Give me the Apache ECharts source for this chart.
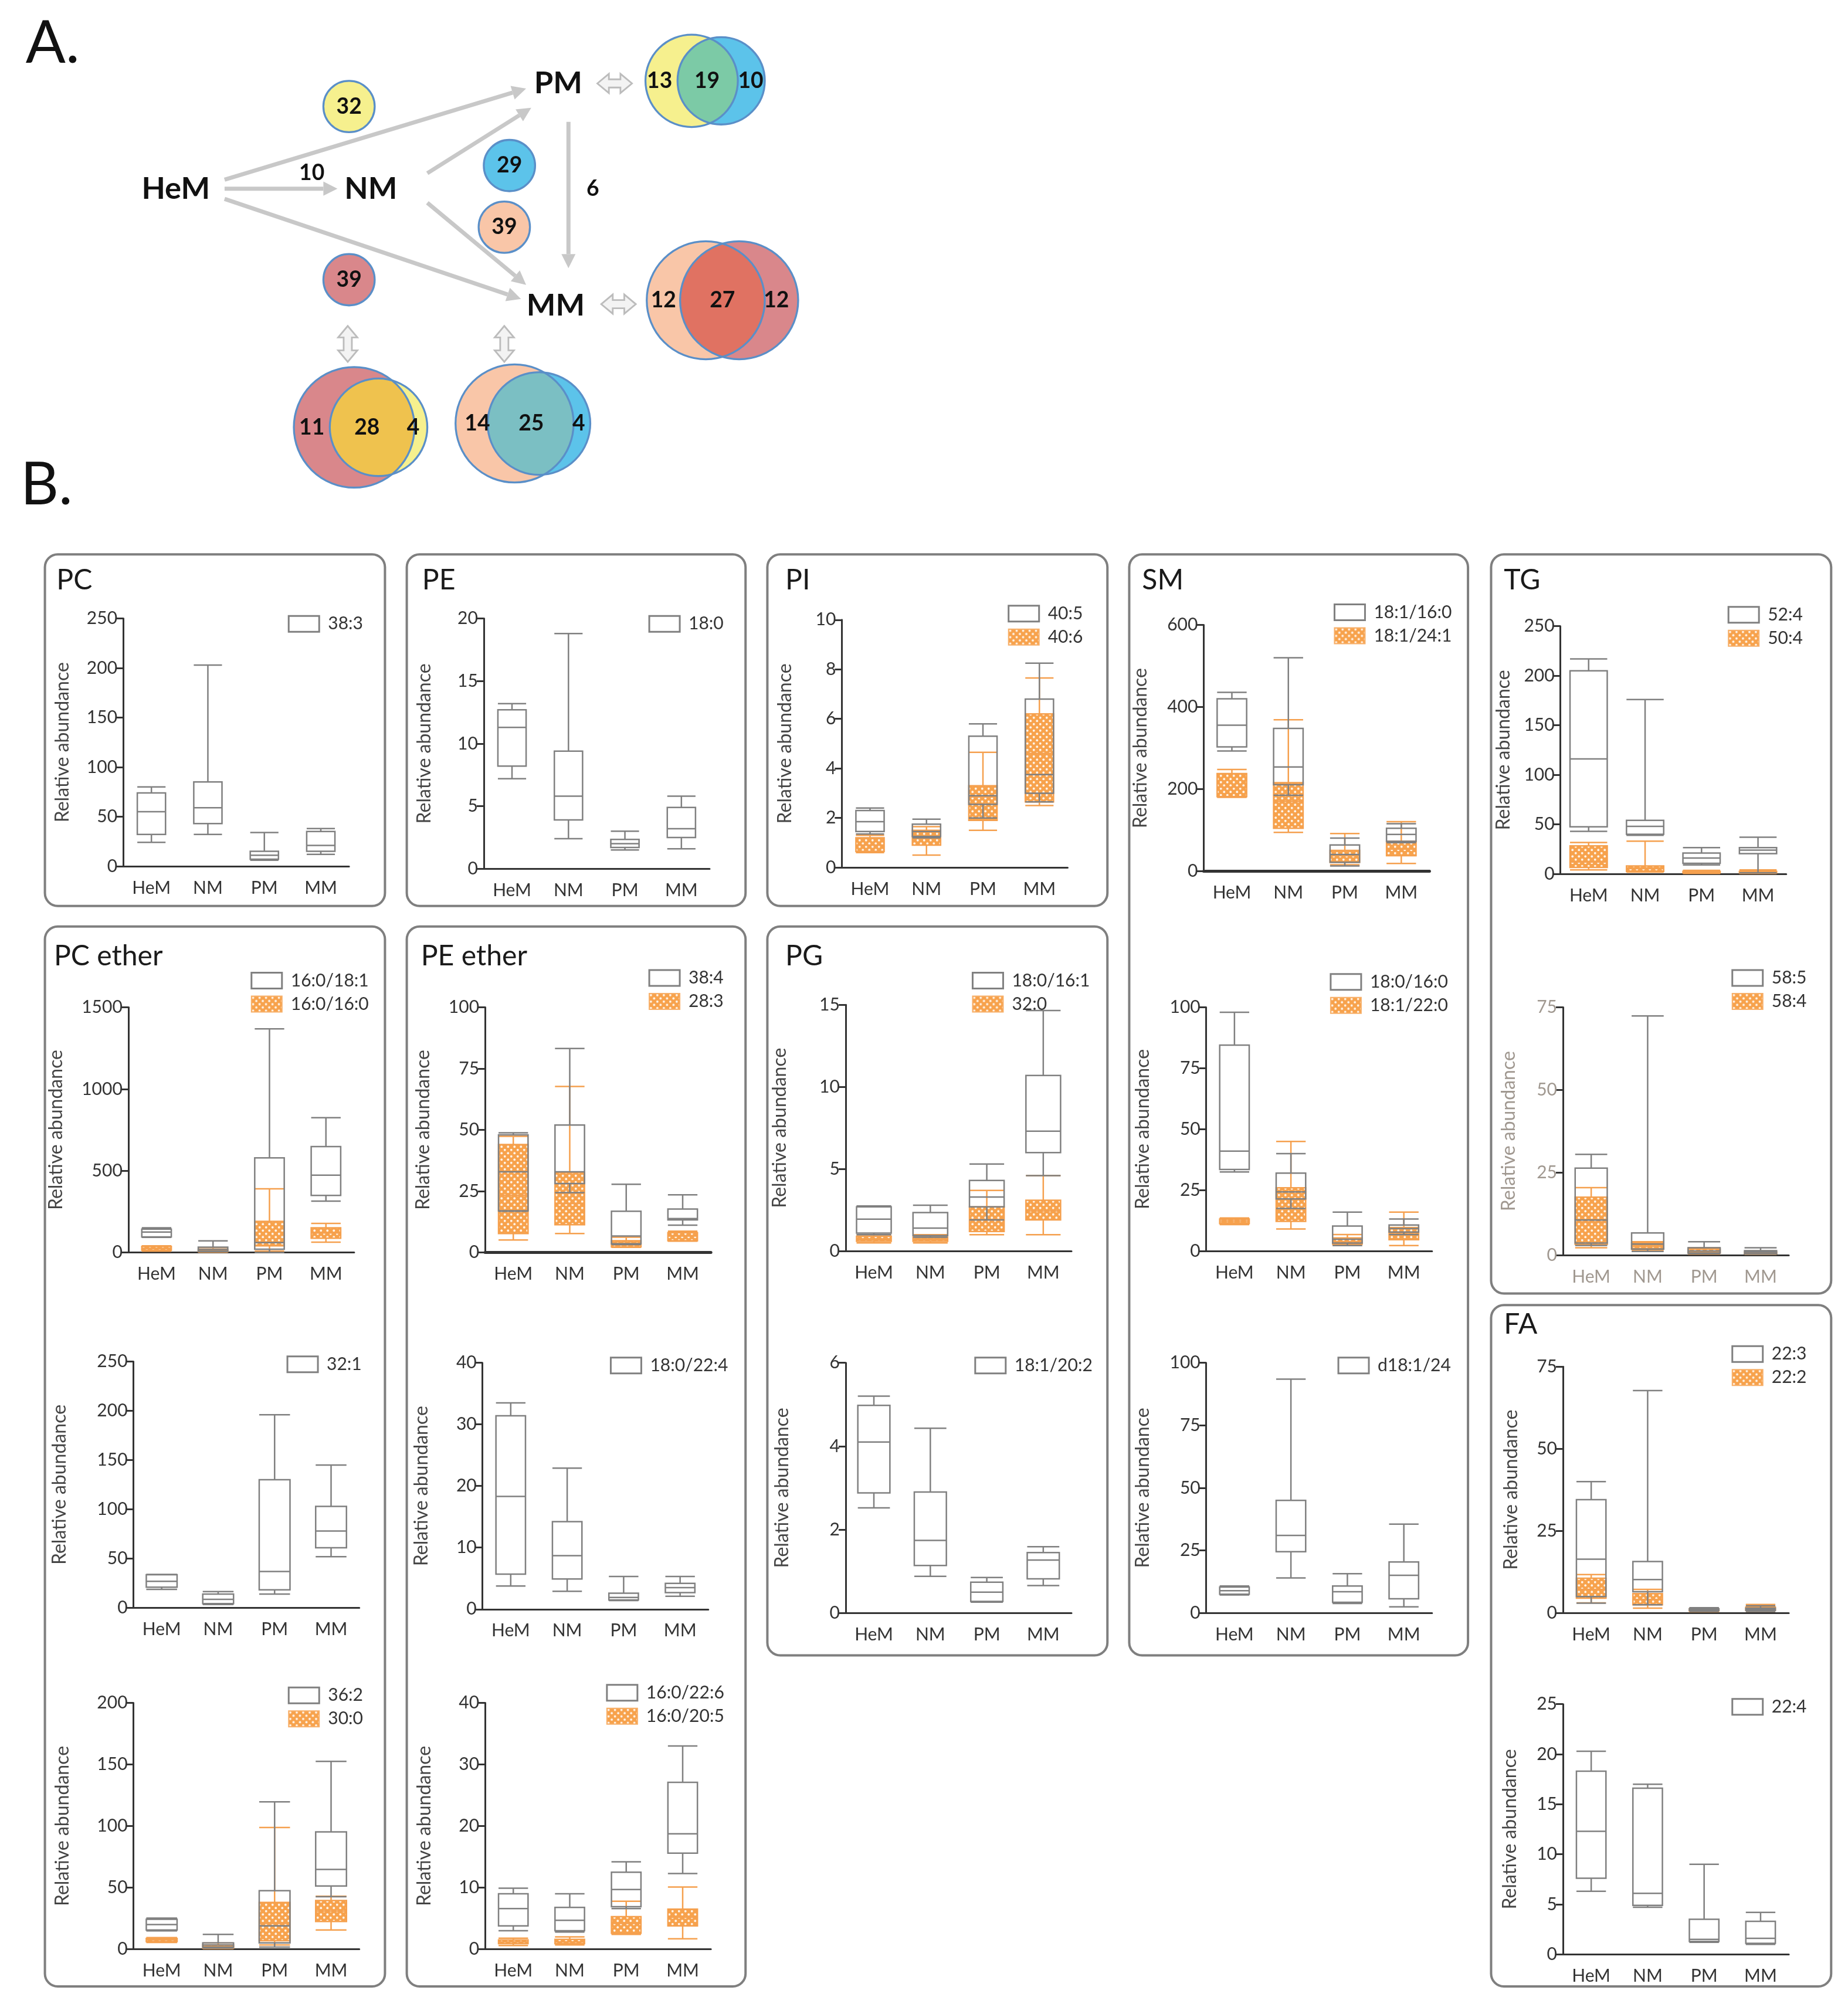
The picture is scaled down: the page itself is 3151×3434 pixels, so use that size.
<!DOCTYPE html>
<html><head><meta charset="utf-8">
<script src="https://cdn.jsdelivr.net/npm/echarts@6/dist/echarts.min.js"></script>
<style>html,body{margin:0;padding:0;background:#fff}#c{width:3151px;height:3434px}</style>
</head><body><div id="c"></div>
<script>
// ---------- DATA ----------
const categories = ['HeM','NM','PM','MM'];
// boxplot values: [min, Q1, median, Q3, max]
const PC_38_3 = [[24,32,55,74,80],[32,43,59,85,203],[6,7,11,15,34],[12,15,21,35,38]];
const PE_18_0 = [[7.2,8.2,11.3,12.7,13.2],[2.4,3.9,5.8,9.4,18.8],[1.5,1.7,2.0,2.35,3.0],[1.6,2.5,3.2,4.9,5.8]];
const PI_40_5 = [[1.35,1.45,1.85,2.3,2.4],[1.2,1.25,1.45,1.75,1.95],[2.0,2.55,2.9,5.3,5.8],[2.65,3.0,3.75,6.8,8.25]];
const PI_40_6 = [[0.6,0.65,0.9,1.2,1.3],[0.5,0.9,1.2,1.5,1.65],[1.5,1.9,2.85,3.3,4.65],[2.5,2.65,4.6,6.2,7.65]];
const SM_18_1_16_0 = [[293,303,356,420,436],[185,211,254,348,520],[13,22,41,64,81],[70,73,90,105,116]];
const SM_18_1_24_1 = [[180,182,205,238,248],[95,105,170,216,369],[16,22,38,51,92],[19,38,54,73,121]];
const SM_18_0_16_0 = [[32.5,33.5,41,84.5,98],[17.5,21.4,24.3,32,40],[2.3,3.3,4.9,10.3,16],[6.8,7.8,9.3,10.7,13.2]];
const SM_18_1_22_0 = [[10.9,11.3,12.4,13.2,13.6],[9.1,12.2,21.4,26,45],[2.3,2.9,3.9,5.4,6.8],[2.3,4.7,7.4,9.7,16]];
const SM_D18_1_24 = [[7.2,7.5,8.9,10.4,10.8],[14,24.5,31,45,93.5],[3.8,4.3,8.5,10.8,15.7],[2.5,5.7,15.1,20.4,35.5]];
const TG_52_4 = [[43,47.6,116,205,217],[39,40,48,54,176],[9,10.6,16,21,26.5],[1,20.4,24,26.5,37]];
const TG_50_4 = [[4,6.6,12,28.3,31.7],[1.8,2.6,5.3,8,33],[0.5,1,1.5,2.5,3.5],[0.5,1,1.5,2.5,4]];
const TG_58_5 = [[2.9,3.6,10.6,26.3,30.5],[1.1,1.8,3.3,6.7,72.4],[0.4,0.6,1.2,2.2,4],[0.3,0.4,0.9,1.3,2.2]];
const TG_58_4 = [[2.2,3.2,10,17.5,20.4],[1.5,1.8,2.6,3.6,4],[0.3,0.6,1,1.8,2.2],[0.2,0.4,0.6,0.9,1.2]];
const FA_22_3 = [[3,5,16.4,34.5,40],[2.5,6.5,10.2,15.7,67.7],[0.5,0.8,1,1.3,1.6],[0.5,0.8,1.1,1.5,2.2]];
const FA_22_2 = [[3.1,4.5,7.2,10.6,11.7],[1.5,2.5,4.1,5.9,7.2],[0.4,0.6,0.9,1.2,1.5],[0.5,0.9,1.3,1.8,2.6]];
const FA_22_4 = [[6.3,7.6,12.3,18.3,20.3],[4.7,4.9,6.1,16.6,17.0],[1.2,1.3,1.5,3.5,9.0],[1.0,1.1,1.6,3.3,4.2]];
const PCE_16_0_18_1 = [[92,95,125,143,151],[5,8,19,32,71],[0,20,60,579,1368],[314,349,473,648,825]];
const PCE_16_0_16_0 = [[8,13,24,37,40],[2,5,10,17,30],[8,40,63,190,389],[63,87,119,151,178]];
const PCE_32_1 = [[18.8,21,27,33.6,34],[3.5,4.4,8.7,14,16.6],[14,18.4,37,130,196],[52,61,78,103,145]];
const PCE_36_2 = [[14.9,15.6,20,24.3,25.3],[1,1.7,3.5,5.2,12.1],[1.7,5.2,19,47.5,119.6],[42.6,51.3,64.8,95.3,152.5]];
const PCE_30_0 = [[5.5,6.2,7.6,8.7,9.4],[0.5,1,2,3.5,5],[3.5,6.9,21,38,98.8],[15.6,22.5,31,39.5,43]];
const PEE_38_4 = [[16.8,17,32.9,48,48.8],[24.4,28.1,32.9,52,83.2],[3.2,3.5,6.7,16.8,27.8],[11.1,13.3,13.8,17.7,23.5]];
const PEE_28_3 = [[5.1,7.7,23.3,44,47.4],[7.7,11.3,20,32.6,67.7],[2.1,2.3,3.7,4.8,6.2],[4.6,4.8,6.7,8.1,8.7]];
const PEE_18_0_22_4 = [[3.75,5.7,18.3,31.4,33.5],[2.9,4.9,8.7,14.2,22.9],[1.4,1.5,1.9,2.6,5.3],[2.1,2.7,3.5,4.2,5.3]];
const PEE_16_0_22_6 = [[3.0,3.8,6.6,9.0,9.9],[2.8,3.0,4.7,6.8,9.0],[6.6,6.9,9.7,12.5,14.2],[12.3,15.6,18.75,27.1,33]];
const PEE_16_0_20_5 = [[0.6,0.9,1.2,1.5,1.8],[0.7,0.9,1.2,1.6,2.0],[2.4,2.6,4.2,5.3,7.8],[1.7,3.8,5.2,6.5,10.1]];
const PG_18_0_16_1 = [[1.0,1.1,1.95,2.7,2.75],[0.85,0.95,1.4,2.35,2.8],[1.9,2.7,3.3,4.3,5.3],[4.6,6.0,7.3,10.7,14.65]];
const PG_32_0 = [[0.5,0.6,0.7,0.9,1.0],[0.5,0.6,0.7,0.85,1.0],[1.0,1.2,1.9,2.7,3.7],[1.0,1.9,2.45,3.1,4.6]];
const PG_18_1_20_2 = [[2.52,2.88,4.1,4.98,5.2],[0.88,1.14,1.74,2.9,4.43],[0.26,0.28,0.5,0.74,0.85],[0.66,0.82,1.27,1.45,1.59]];

// Panel A numbers
const NODES = ['HeM','NM','PM','MM'];
const SINGLE_COUNTS = [32, 29, 39, 39];
const EDGE_COUNTS = [10, 6];
const VENN_PM = [13, 19, 10];
const VENN_MM = [12, 27, 12];
const VENN_BL = [11, 28, 4];
const VENN_BM = [14, 25, 4];
const PANEL_TITLES = ['PC','PE','PI','SM','TG','PC ether','PE ether','PG','FA'];

// ---------- LAYOUT ----------
const S = 2.188;
const FONT = 'Lato, "Open Sans", "DejaVu Sans", sans-serif';

function makePattern(){
  const n = 11;
  const c = document.createElement('canvas'); c.width = n; c.height = n;
  const g = c.getContext('2d');
  g.fillStyle = '#f7a24c'; g.fillRect(0,0,n,n);
  g.fillStyle = '#fff4e8';
  g.beginPath(); g.arc(n*0.25,n*0.25,1.9,0,Math.PI*2); g.fill();
  g.beginPath(); g.arc(n*0.75,n*0.75,1.9,0,Math.PI*2); g.fill();
  return {image: c, repeat: 'repeat'};
}
const PATTERN = makePattern();
const WHITE_STYLE = {color:'rgba(255,255,255,0)', borderColor:'#808080', borderWidth:2.5};
const ORANGE_STYLE = {color:PATTERN, borderColor:'#f5a04e', borderWidth:2.5};

// chart specs (display-scale coordinates, multiplied by S)
const specs = [
 {ax:96, top:482, zero:675, max:250, step:50, ng:40, lg:[222,477], bw:22, w:['38:3',PC_38_3]},
 {ax:377, top:482, zero:677, max:20, step:5, ng:39, lg:[503,477], bw:22, w:['18:0',PE_18_0]},
 {ax:656, top:483, zero:676, max:10, step:2, ng:37, lg:[783,469], bw:22, w:['40:5',PI_40_5], o:['40:6',PI_40_6]},
 {ax:938, top:487, zero:679, max:600, step:200, ng:42, lg:[1037,468], bw:23, w:['18:1/16:0',SM_18_1_16_0], o:['18:1/24:1',SM_18_1_24_1], thick:true},
 {ax:940, top:785, zero:975, max:100, step:25, ng:42, lg:[1034,756], bw:23, w:['18:0/16:0',SM_18_0_16_0], o:['18:1/22:0',SM_18_1_22_0]},
 {ax:940, top:1062, zero:1257, max:100, step:25, ng:42, lg:[1040,1055], bw:23, w:['d18:1/24',SM_D18_1_24]},
 {ax:1216, top:488, zero:681, max:250, step:50, ng:37, lg:[1344,470], bw:29, w:['52:4',TG_52_4], o:['50:4',TG_50_4]},
 {ax:1218, top:785, zero:978, max:75, step:25, ng:35, lg:[1347,753], bw:25, w:['58:5',TG_58_5], o:['58:4',TG_58_4], faded:true},
 {ax:1218, top:1065, zero:1257, max:75, step:25, ng:33, lg:[1347,1046], bw:23, w:['22:3',FA_22_3], o:['22:2',FA_22_2]},
 {ax:1218, top:1328, zero:1523, max:25, step:5, ng:34, lg:[1347,1321], bw:23, w:['22:4',FA_22_4]},
 {ax:100, top:785, zero:976, max:1500, step:500, ng:49, lg:[193,755], bw:23, w:['16:0/18:1',PCE_16_0_18_1], o:['16:0/16:0',PCE_16_0_16_0]},
 {ax:104, top:1061, zero:1253, max:250, step:50, ng:50, lg:[221,1054], bw:24, w:['32:1',PCE_32_1]},
 {ax:104, top:1327, zero:1519, max:200, step:50, ng:48, lg:[222,1312], bw:24, w:['36:2',PCE_36_2], o:['30:0',PCE_30_0]},
 {ax:378, top:785, zero:976, max:100, step:25, ng:41, lg:[503,753], bw:23, w:['38:4',PEE_38_4], o:['28:3',PEE_28_3], thick:true},
 {ax:376, top:1062, zero:1254, max:40, step:10, ng:40, lg:[473,1055], bw:23, w:['18:0/22:4',PEE_18_0_22_4]},
 {ax:378, top:1327, zero:1519, max:40, step:10, ng:40, lg:[470,1310], bw:23, w:['16:0/22:6',PEE_16_0_22_6], o:['16:0/20:5',PEE_16_0_20_5]},
 {ax:659, top:783, zero:975, max:15, step:5, ng:44, lg:[755,755], bw:27, w:['18:0/16:1',PG_18_0_16_1], o:['32:0',PG_32_0]},
 {ax:659, top:1062, zero:1257, max:6, step:2, ng:42, lg:[757,1055], bw:25, w:['18:1/20:2',PG_18_1_20_2]}
];

const grids=[], xAxes=[], yAxes=[], series=[], legends=[];
specs.forEach((c,i)=>{
  const txt = c.faded ? '#a09890' : '#333';
  grids.push({left:c.ax*S, top:c.top*S, width:176*S, height:(c.zero-c.top)*S});
  xAxes.push({gridIndex:i, type:'category', data:categories,
    axisLine:{lineStyle:{color:'#333', width:c.thick?5:3}}, axisTick:{show:false},
    axisLabel:{fontSize:30, color:txt, margin:22, fontFamily:FONT}});
  xAxes.push({gridIndex:i, type:'category', data:categories, show:false});
  yAxes.push({gridIndex:i, type:'value', min:0, max:c.max, interval:c.step,
    name:'Relative abundance', nameLocation:'middle', nameGap:c.ng*S,
    nameTextStyle:{fontSize:32, color: c.faded ? '#a09890' : '#444', fontFamily:FONT},
    axisLine:{show:true, lineStyle:{color:'#333', width:3}},
    axisTick:{show:true, length:12, lineStyle:{color:'#333', width:3}},
    splitLine:{show:false},
    axisLabel:{fontSize:30, color:txt, margin:10, fontFamily:FONT, formatter:(v)=>String(v)}});
  const names=[{name:c.w[0], itemStyle:{color:'#ffffff', borderColor:'#808080', borderWidth:3}}];
  if (c.o){
    names.push({name:c.o[0], itemStyle:{color:PATTERN, borderColor:'#f7b06a', borderWidth:2}});
    series.push({type:'boxplot', name:c.o[0], xAxisIndex:2*i+1, yAxisIndex:i, data:c.o[1],
      boxWidth:[c.bw*S, c.bw*S], z:2, itemStyle:ORANGE_STYLE, emphasis:{disabled:true}});
  }
  series.push({type:'boxplot', name:c.w[0], xAxisIndex:2*i, yAxisIndex:i, data:c.w[1],
    boxWidth:[c.bw*S, c.bw*S], z:3, itemStyle:WHITE_STYLE, emphasis:{disabled:true}});
  legends.push({left:c.lg[0]*S, top:c.lg[1]*S, orient:'vertical', icon:'rect',
    itemWidth:52, itemHeight:27, itemGap:10, selectedMode:false, data:names,
    textStyle:{fontSize:30, color:'#333', fontFamily:FONT, padding:[0,0,0,10]}});
});

// ---------- GRAPHIC (frames, titles, panel A) ----------
const g = [];
const frames = [[35,432,300,706],[317,432,581,706],[598,432,863,706],[880,432,1144,1290],[1162,432,1427,1008],
                [35,722,300,1548],[317,722,581,1548],[598,722,863,1290],[1162,1017,1427,1548]];
frames.forEach(f=>g.push({type:'rect', z:1, shape:{x:f[0]*S, y:f[1]*S, width:(f[2]-f[0])*S, height:(f[3]-f[1])*S, r:10*S},
  style:{fill:'none', stroke:'#7f7f7f', lineWidth:4}}));
const titlePos = [[44,452],[329,452],[612,452],[890,452],[1172,452],[42,745],[328,745],[612,745],[1172,1032]];
function T(x,y,text,size,opt){ g.push({type:'text', x:x*S, y:y*S, z:20,
  style:Object.assign({text:String(text), fontSize:size*S, fontFamily:FONT, fill:'#111', align:'center', verticalAlign:'middle'}, opt||{})}); }
PANEL_TITLES.forEach((t,i)=>T(titlePos[i][0], titlePos[i][1], t, 22, {align:'left', fill:'#1a1a1a'}));

T(20, 34, 'A.', 46, {align:'left'});
T(16, 378, 'B.', 46, {align:'left'});

function arrow(x1,y1,x2,y2){
  const dx=x2-x1, dy=y2-y1, L=Math.hypot(dx,dy), ux=dx/L, uy=dy/L, hl=11, hw=5.5;
  const bx=x2-ux*hl, by=y2-uy*hl;
  g.push({type:'line', z:5, shape:{x1:x1*S,y1:y1*S,x2:bx*S,y2:by*S}, style:{stroke:'#c8c8c8', lineWidth:3.2*S}});
  g.push({type:'polygon', z:5, shape:{points:[[x2*S,y2*S],[(bx-uy*hw)*S,(by+ux*hw)*S],[(bx+uy*hw)*S,(by-ux*hw)*S]]}, style:{fill:'#c8c8c8'}});
}
arrow(175,140,410,69);
arrow(175,147,263,147);
arrow(175,155,406,233);
arrow(333,135,414,84);
arrow(333,158,410,222);
arrow(443,95,443,209);

function dbl(cx,cy,len,vert){
  const t=3.2,h=7.5,hl=9,a=len/2;
  const pts=[[-a,0],[-a+hl,-h],[-a+hl,-t],[a-hl,-t],[a-hl,-h],[a,0],[a-hl,h],[a-hl,t],[-a+hl,t],[-a+hl,h]];
  g.push({type:'polygon', z:5, shape:{points:pts.map(([p,q])=> vert ? [(cx+q)*S,(cy+p)*S] : [(cx+p)*S,(cy+q)*S])},
    style:{fill:'#f3f3f3', stroke:'#bcbcbc', lineWidth:1.3*S}});
}
dbl(479,65,27,false);
dbl(482,237,27,false);
dbl(271,268,28,true);
dbl(393,268,28,true);

// node labels & edge counts
T(137,147,NODES[0],24,{fontWeight:'bold'});
T(289,147,NODES[1],24,{fontWeight:'bold'});
T(435,65,NODES[2],24,{fontWeight:'bold'});
T(433,238,NODES[3],24,{fontWeight:'bold'});
T(243,135,EDGE_COUNTS[0],17,{fontWeight:'bold'});
T(462,147,EDGE_COUNTS[1],17,{fontWeight:'bold'});

const OUT = '#5a8fc8';
function circ(x,y,r,fill){ g.push({type:'circle', z:6, shape:{cx:x*S,cy:y*S,r:r*S}, style:{fill, stroke:OUT, lineWidth:1.5*S}}); }
const singles = [[272,83,'#f6f08e'],[397,129,'#5cc3ea'],[393,177,'#f9c6a8'],[272,218,'#d9878b']];
singles.forEach((s,i)=>{ circ(s[0],s[1],20,s[2]); T(s[0],s[1],SINGLE_COUNTS[i],17,{fontWeight:'bold'}); });

function venn(x1,r1,f1,x2,r2,f2,cy,fo,counts,lx){
  g.push({type:'circle', z:6, shape:{cx:x1*S,cy:cy*S,r:r1*S}, style:{fill:f1}});
  g.push({type:'circle', z:6, shape:{cx:x2*S,cy:cy*S,r:r2*S}, style:{fill:f2}});
  const d=x2-x1, a=(d*d+r1*r1-r2*r2)/(2*d), h=Math.sqrt(r1*r1-a*a);
  const pts=[]; const N=60;
  const a0=Math.atan2(-h,a), a1=Math.atan2(h,a);
  for(let k=0;k<=N;k++){ const t=a0+(a1-a0)*k/N; pts.push([(x1+r1*Math.cos(t))*S,(cy+r1*Math.sin(t))*S]); }
  const dx=x1+a-x2; const b0=Math.atan2(h,dx), b1=Math.atan2(-h,dx)+Math.PI*2;
  for(let k=0;k<=N;k++){ const t=b0+(b1-b0)*k/N; pts.push([(x2+r2*Math.cos(t))*S,(cy+r2*Math.sin(t))*S]); }
  g.push({type:'polygon', z:7, shape:{points:pts}, style:{fill:fo}});
  g.push({type:'circle', z:8, shape:{cx:x1*S,cy:cy*S,r:r1*S}, style:{fill:'none', stroke:OUT, lineWidth:1.5*S}});
  g.push({type:'circle', z:8, shape:{cx:x2*S,cy:cy*S,r:r2*S}, style:{fill:'none', stroke:OUT, lineWidth:1.5*S}});
  counts.forEach((c,i)=>T(lx[i],cy,c,17,{fontWeight:'bold'}));
}
venn(539,36,'#f6f08e',562,34,'#5cc3ea',63,'#7ccaa6',VENN_PM,[514,551,585]);
venn(550,46,'#f9c6a8',576,46,'#d9878b',234,'#e07262',VENN_MM,[517,563,605]);
venn(276,47,'#d9878b',295,38,'#f6f08e',333,'#efc24e',VENN_BL,[243,286,322]);
venn(401,46,'#f9c6a8',420,40,'#5cc3ea',330,'#7bbfc3',VENN_BM,[372,414,451]);

// ---------- CHART ----------
const chart = echarts.init(document.getElementById('c'), null, {renderer:'canvas'});
chart.setOption({
  animation:false,
  backgroundColor:'#ffffff',
  textStyle:{fontFamily:FONT},
  grid:grids, xAxis:xAxes, yAxis:yAxes, series:series, legend:legends,
  graphic:{elements:g}
});
</script>
</body></html>
